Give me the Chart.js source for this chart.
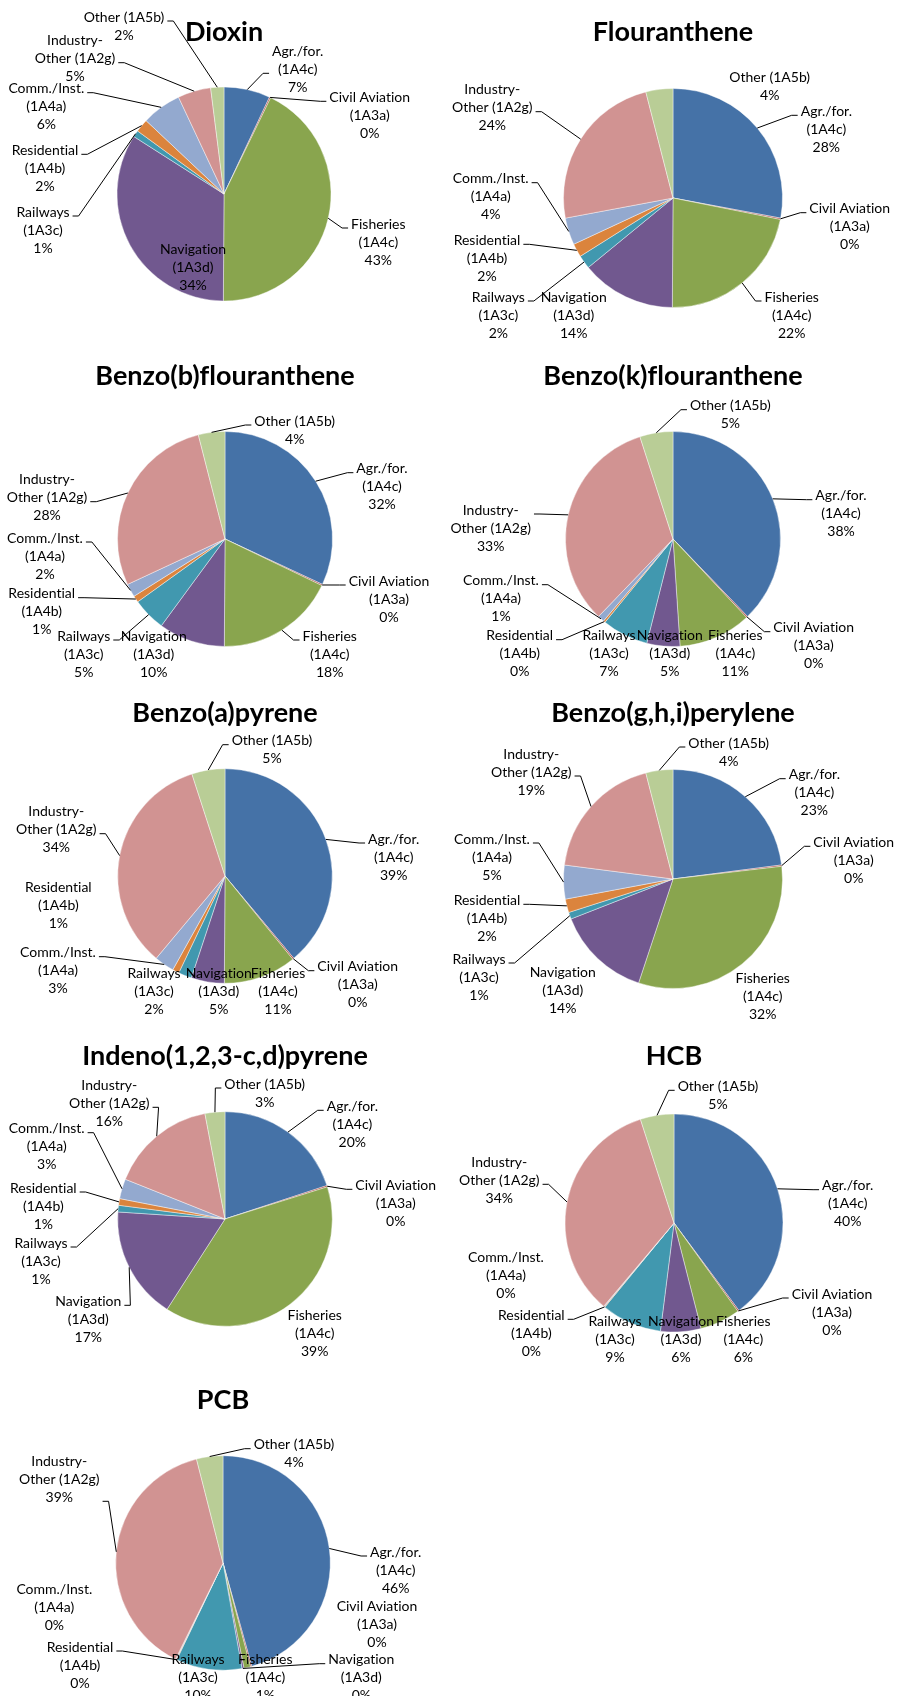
<!DOCTYPE html>
<html>
<head>
<meta charset="utf-8">
<script src="https://cdn.jsdelivr.net/npm/chart.js@4.4.0/dist/chart.umd.min.js"></script>
<style>
body { margin: 0; background: #fff; }
#wrap { position: relative; width: 900px; height: 1696px; overflow: hidden; }
.panel { position: absolute; }
</style>
</head>
<body>
<div id="wrap"></div>
<script>
// sources, in slice order (clockwise from 12 o'clock)
var categories = [
    ['Agr./for.', '(1A4c)'],
    ['Civil Aviation', '(1A3a)'],
    ['Fisheries', '(1A4c)'],
    ['Navigation', '(1A3d)'],
    ['Railways', '(1A3c)'],
    ['Residential', '(1A4b)'],
    ['Comm./Inst.', '(1A4a)'],
    ['Industry-', 'Other (1A2g)'],
    ['Other (1A5b)']
];
var colors = ['#4572A7', '#AA4643', '#89A54E', '#71588F', '#4198AF', '#DB843D', '#93A9CF', '#D19392', '#B9CD96'];

var titles = ['Dioxin', 'Flouranthene', 'Benzo(b)flouranthene', 'Benzo(k)flouranthene',
    'Benzo(a)pyrene', 'Benzo(g,h,i)perylene', 'Indeno(1,2,3-c,d)pyrene', 'HCB', 'PCB'];

// shares in %
var dioxin       = [7, 0.2, 43, 34, 1, 2, 6, 5, 2];
var flouranthene = [28, 0.2, 22, 14, 2, 2, 4, 24, 4];
var benzoB       = [32, 0.2, 18, 10, 5, 1, 2, 28, 4];
var benzoK       = [38, 0.2, 11, 5, 7, 0.3, 1, 33, 5];
var benzoA       = [39, 0.2, 11, 5, 2, 1, 3, 34, 5];
var benzoGHI     = [23, 0.2, 32, 14, 1, 2, 5, 19, 4];
var indeno       = [20, 0.2, 39, 17, 1, 1, 3, 16, 3];
var hcb          = [40, 0.2, 6, 6, 9, 0.1, 0.1, 34, 5];
var pcb          = [46, 0.2, 1, 0.3, 10, 0.1, 0.1, 39, 4];

var series = [dioxin, flouranthene, benzoB, benzoK, benzoA, benzoGHI, indeno, hcb, pcb];

// panel geometry: left, top, height, pie centre (local), radius, title y
var panels = [
    {x: 0,   y: 0,    h: 360, cx: 224, cy: 194, r: 107,   ty: 32.3},
    {x: 450, y: 0,    h: 360, cx: 223, cy: 198, r: 109.5, ty: 32.3},
    {x: 0,   y: 340,  h: 360, cx: 225, cy: 199, r: 107.5, ty: 36},
    {x: 450, y: 340,  h: 360, cx: 223, cy: 199, r: 107.5, ty: 36},
    {x: 0,   y: 680,  h: 360, cx: 225, cy: 196, r: 107.3, ty: 33.3},
    {x: 450, y: 680,  h: 360, cx: 223, cy: 199, r: 109.5, ty: 33.3},
    {x: 0,   y: 1020, h: 360, cx: 225, cy: 199, r: 107.3, ty: 36},
    {x: 450, y: 1020, h: 360, cx: 224, cy: 203, r: 109,   ty: 36.7},
    {x: 0,   y: 1360, h: 336, cx: 223, cy: 203, r: 107.3, ty: 40}
];

// data label placement: [dx, dy of first line from pie centre, leader (0 none, n = attach at line n)]
var labelPos = [
    [[73.7,-142.7,2],[145.7,-96.7,1],[154.3,30,1],[-31,55,0],[-181,18,1],[-179,-43.7,1],[-177.7,-105.3,1],[-149,-153.3,2],[-100,-177,1]],
    [[153.3,-86.7,1],[176.7,10.7,1],[118.7,99,1],[-99.3,99,0],[-174.7,99,1],[-186,42.3,1],[-182.3,-19.3,1],[-180.7,-108.3,2],[96.7,-120.7,0]],
    [[157,-70.3,1],[164,42,1],[104.7,97,1],[-71.3,97,0],[-141.3,97,1],[-183.3,54.7,1],[-180,-1,1],[-178,-59.3,2],[69.7,-118,1]],
    [[168,-43.3,1],[140.7,88.7,1],[62.3,96.7,0],[-3.3,96.7,0],[-64,96.7,0],[-153.3,96.7,1],[-172,41.7,1],[-182.3,-29,1],[57.3,-133.3,1]],
    [[168.7,-37,1],[132.7,90.7,1],[53,97.3,0],[-6.3,97.3,0],[-71,97.3,0],[-166.7,11.7,0],[-167,76.7,1],[-168.7,-64.3,2],[47,-135.3,1]],
    [[141.3,-104.3,1],[180.7,-36.7,1],[89.7,99,0],[-110.3,93.3,0],[-194,80,1],[-186,21.3,1],[-181,-40,1],[-141.7,-125,2],[55.7,-136,1]],
    [[127.3,-112.7,1],[170.7,-33.7,1],[89.7,96.7,0],[-136.7,82.3,1],[-184,24,1],[-181.7,-31,1],[-178.3,-90.3,1],[-115.7,-133.7,2],[39.7,-135,1]],
    [[173.7,-37.3,1],[158,71,1],[69.3,98.3,0],[7,98.3,0],[-59,98.3,0],[-142.7,92.3,1],[-168,34.3,0],[-174.7,-60.7,2],[44,-136.7,1]],
    [[172.7,-11,1],[154,43,0],[42.3,96.7,0],[138.3,96.7,1],[-25,96.7,0],[-143,84,1],[-168.7,26.3,0],[-163.7,-101.7,3],[71,-118.3,1]]
];

var TITLE_SIZE = 27, LINE_H = 18;

var outsideLabels = {
    id: 'outsideLabels',
    beforeDraw: function(chart) {
        // no ligatures (Lato turns "ti" / "fl" into ligatures)
        chart.ctx.textRendering = 'optimizeSpeed';
    },
    afterDatasetsDraw: function(chart, args, opts) {
        var ctx = chart.ctx,
            meta = chart.getDatasetMeta(0),
            values = chart.data.datasets[0].data,
            total = values.reduce(function(a, b) { return a + b; }, 0);
        ctx.save();
        ctx.textRendering = 'optimizeSpeed';
        ctx.font = opts.font;
        ctx.fillStyle = '#000';
        ctx.strokeStyle = '#000';
        ctx.lineWidth = 1;
        ctx.textAlign = 'center';
        ctx.textBaseline = 'middle';
        meta.data.forEach(function(arc, i) {
            var p = opts.pos[i],
                lines = chart.data.labels[i].concat([Math.round(values[i] / total * 100) + '%']),
                lx = arc.x + p[0],
                ly = arc.y + p[1],
                w = Math.max.apply(null, lines.map(function(t) { return ctx.measureText(t).width; }));
            lines.forEach(function(t, k) { ctx.fillText(t, lx, ly + k * LINE_H); });
            if (p[2]) {
                var mid = (arc.startAngle + arc.endAngle) / 2,
                    ax = arc.x + Math.cos(mid) * arc.outerRadius,
                    ay = arc.y + Math.sin(mid) * arc.outerRadius,
                    side = lx > ax ? -1 : 1,
                    ex = lx + side * (w / 2 + 3),
                    ey = ly + (p[2] - 1) * LINE_H + 4;
                ctx.beginPath();
                ctx.moveTo(ex, ey);
                ctx.lineTo(ex + side * 6, ey);
                ctx.lineTo(ax, ay);
                ctx.stroke();
            }
        });
        ctx.restore();
    }
};

var wrap = document.getElementById('wrap');
panels.forEach(function(pn, n) {
    var W = 450, H = pn.h;
    var div = document.createElement('div');
    div.className = 'panel';
    div.style.left = pn.x + 'px';
    div.style.top = pn.y + 'px';
    var canvas = document.createElement('canvas');
    canvas.width = W;
    canvas.height = H;
    canvas.style.width = W + 'px';
    canvas.style.height = H + 'px';
    div.appendChild(canvas);
    wrap.appendChild(div);

    var lh = TITLE_SIZE * 1.2,
        padL = Math.max(0, 2 * pn.cx - W),
        padR = Math.max(0, W - 2 * pn.cx),
        areaTop = 2 * pn.cy - H,
        padB = Math.max(0, pn.ty + lh / 2 - areaTop);
    areaTop += padB;

    new Chart(canvas.getContext('2d'), {
        type: 'pie',
        data: {
            labels: categories,
            datasets: [{
                data: series[n],
                backgroundColor: colors,
                borderColor: 'rgba(255,255,255,0.7)',
                borderWidth: 0.6
            }]
        },
        options: {
            responsive: false,
            animation: false,
            devicePixelRatio: 1,
            radius: pn.r,
            layout: { padding: { left: padL, right: padR, top: 0, bottom: padB } },
            plugins: {
                legend: { display: false },
                tooltip: { enabled: false },
                title: {
                    display: true,
                    text: titles[n],
                    color: '#000',
                    font: { family: 'Lato', size: TITLE_SIZE, weight: 'bold', lineHeight: 1.2 },
                    padding: { top: pn.ty - lh / 2, bottom: areaTop - (pn.ty + lh / 2) }
                },
                outsideLabels: { font: '14px Lato', pos: labelPos[n] }
            }
        },
        plugins: [outsideLabels]
    });
});
</script>
</body>
</html>
